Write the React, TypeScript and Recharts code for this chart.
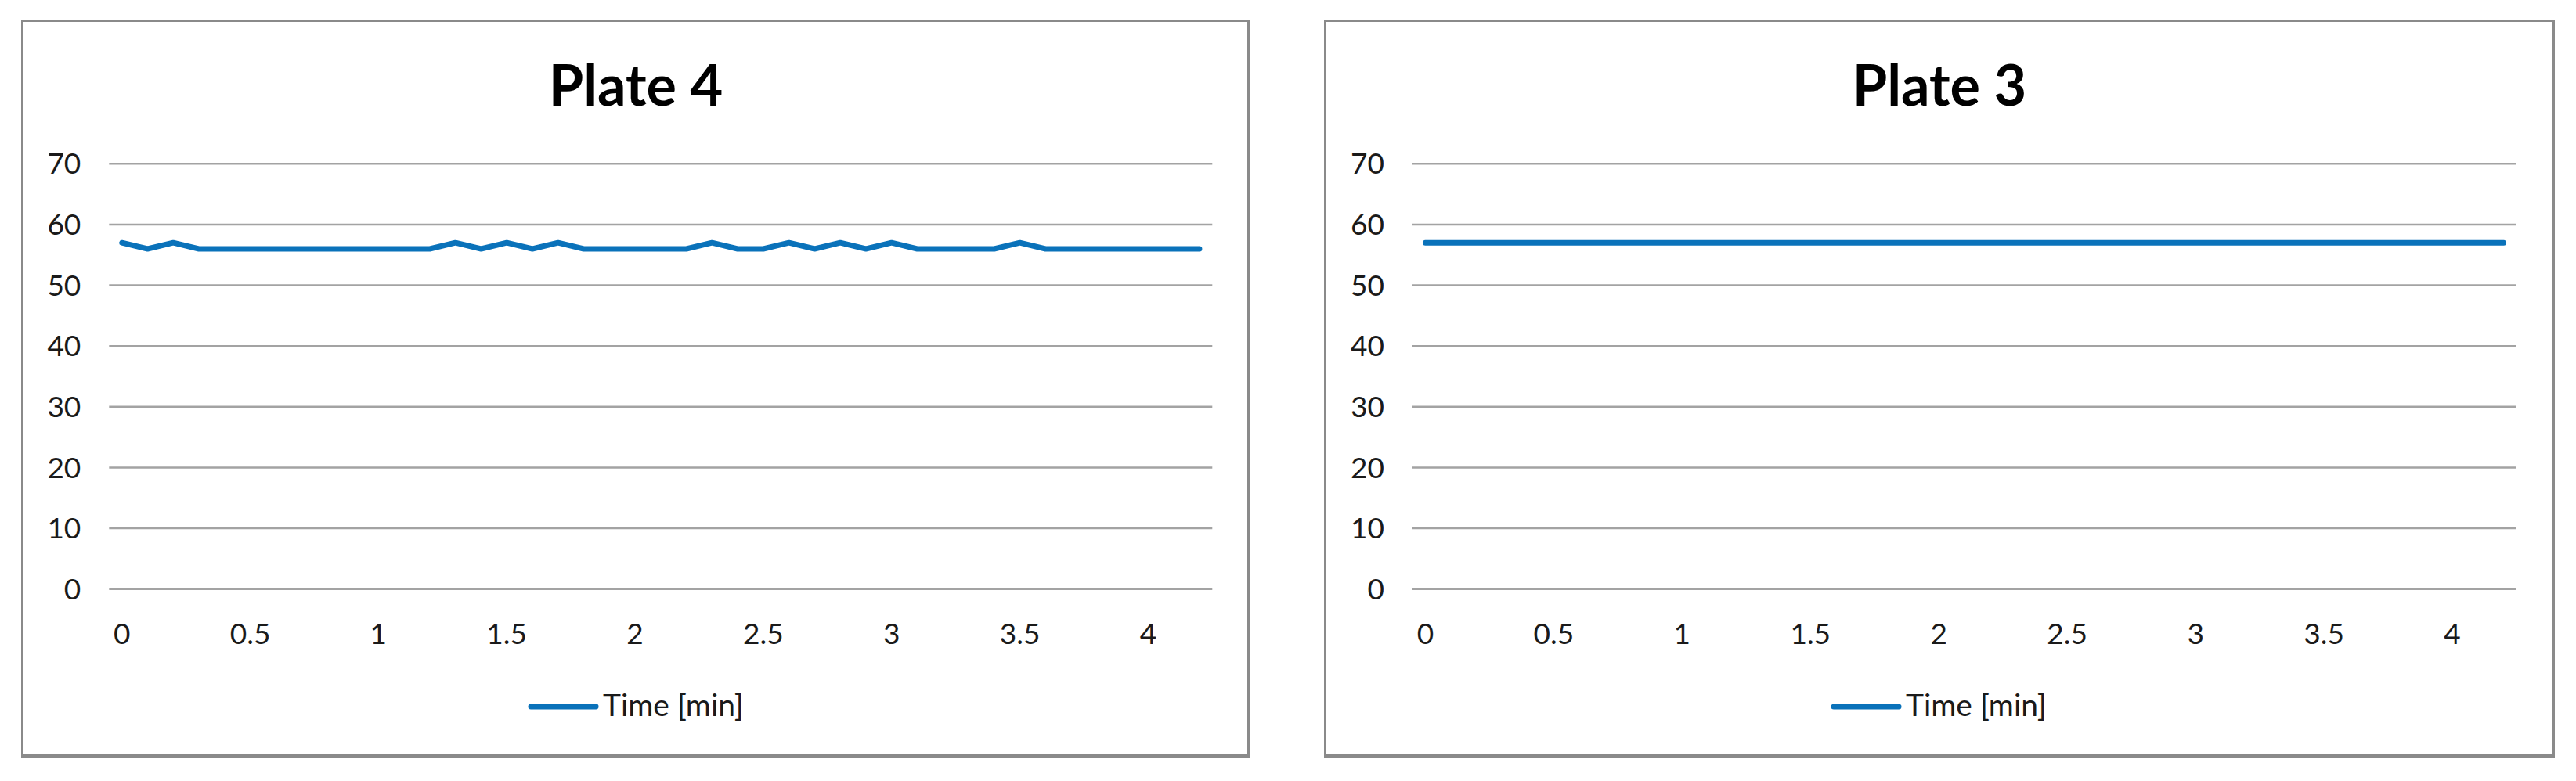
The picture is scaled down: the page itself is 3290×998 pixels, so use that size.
import { LineChart, Line, XAxis, YAxis, CartesianGrid, Legend } from "recharts";

const times = [0, 0.1, 0.2, 0.3, 0.4, 0.5, 0.6, 0.7, 0.8, 0.9, 1, 1.1, 1.2, 1.3, 1.4, 1.5, 1.6, 1.7, 1.8, 1.9, 2, 2.1, 2.2, 2.3, 2.4, 2.5, 2.6, 2.7, 2.8, 2.9, 3, 3.1, 3.2, 3.3, 3.4, 3.5, 3.6, 3.7, 3.8, 3.9, 4, 4.1, 4.2];

const plate4 = [57, 56, 57, 56, 56, 56, 56, 56, 56, 56, 56, 56, 56, 57, 56, 57, 56, 57, 56, 56, 56, 56, 56, 57, 56, 56, 57, 56, 57, 56, 57, 56, 56, 56, 56, 57, 56, 56, 56, 56, 56, 56, 56];

const plate3 = [57, 57, 57, 57, 57, 57, 57, 57, 57, 57, 57, 57, 57, 57, 57, 57, 57, 57, 57, 57, 57, 57, 57, 57, 57, 57, 57, 57, 57, 57, 57, 57, 57, 57, 57, 57, 57, 57, 57, 57, 57, 57, 57];

const xTicks = [0, 0.5, 1, 1.5, 2, 2.5, 3, 3.5, 4];
const yTicks = [0, 10, 20, 30, 40, 50, 60, 70];
const seriesName = "Time [min]";

const BLUE = "#0A72BA";
const GRID = "#a3a3a3";
const TEXT = "#1a1a1a";
const FONT = "Lato, 'Open Sans', sans-serif";

const CHART_H = 998;
const PLOT_TOP = 209.3;
const PLOT_BOTTOM = 752.7;
const X_AXIS_H = 60;

interface PanelProps {
  title: string;
  values: number[];
  boxLeft: number;
  boxWidth: number;
  plotLeft: number;
  plotRight: number;
}

function LegendContent({ payload }: any) {
  const item = payload && payload[0];
  return (
    <svg width={320} height={50} style={{ display: "block" }}>
      <line x1={4} x2={87} y1={25} y2={25} stroke={BLUE} strokeWidth={7} strokeLinecap="round" />
      <text x={96} y={37} fontFamily={FONT} fontSize={39} fill={TEXT}>
        {item ? item.value : seriesName}
      </text>
    </svg>
  );
}

function Panel({ title, values, boxLeft, boxWidth, plotLeft, plotRight }: PanelProps) {
  const data = times.map((t, i) => ({ t, v: values[i] }));
  const yAxisW = plotLeft - boxLeft;
  const rightMargin = boxWidth - (plotRight - boxLeft);
  return (
    <>
      <div
        style={{
          position: "absolute",
          left: boxLeft,
          top: 25,
          width: boxWidth,
          height: 944,
          boxSizing: "border-box",
          borderTop: "3px solid #8a8a8a",
          borderLeft: "3px solid #8a8a8a",
          borderRight: "4px solid #8a8a8a",
          borderBottom: "5px solid #8a8a8a",
          background: "#fff",
        }}
      />
      <div
        style={{
          position: "absolute",
          left: boxLeft,
          top: 71,
          width: boxWidth,
          textAlign: "center",
          fontFamily: FONT,
          fontWeight: 700,
          fontSize: 72,
          lineHeight: "72px",
          color: "#000",
        }}
      >
        {title}
      </div>
      <div style={{ position: "absolute", left: boxLeft, top: 0, width: boxWidth, height: CHART_H }}>
        <LineChart
          width={boxWidth}
          height={CHART_H}
          data={data}
          margin={{ top: PLOT_TOP, right: rightMargin, left: 0, bottom: CHART_H - PLOT_BOTTOM - X_AXIS_H }}
        >
          <CartesianGrid vertical={false} stroke={GRID} strokeWidth={2.5} />
          <XAxis
            dataKey="t"
            type="number"
            domain={[-0.05, 4.25]}
            ticks={xTicks}
            interval={0}
            height={X_AXIS_H}
            tickLine={false}
            axisLine={false}
            tickSize={0}
            tickMargin={44}
            tickFormatter={(v: number) => String(v)}
            tick={{ fontFamily: FONT, fontSize: 37, fill: TEXT }}
          />
          <YAxis
            type="number"
            domain={[0, 70]}
            ticks={yTicks}
            interval={0}
            width={yAxisW}
            tickLine={false}
            axisLine={false}
            tickSize={0}
            tickMargin={36}
            tick={{ fontFamily: FONT, fontSize: 37, fill: TEXT }}
          />
          <Legend
            verticalAlign="middle"
            align="center"
            content={<LegendContent />}
            wrapperStyle={{ top: 878, left: 647, width: 320, height: 50 }}
          />
          <Line
            dataKey="v"
            name={seriesName}
            type="linear"
            stroke={BLUE}
            strokeWidth={7}
            strokeLinecap="round"
            strokeLinejoin="round"
            dot={false}
            activeDot={false}
            isAnimationActive={false}
          />
        </LineChart>
      </div>
    </>
  );
}

export default function App() {
  return (
    <div style={{ position: "fixed", left: 0, top: 0, width: 3290, height: 998, background: "#fff", overflow: "hidden" }}>
      <Panel title="Plate 4" values={plate4} boxLeft={27} boxWidth={1570} plotLeft={139.3} plotRight={1548.3} />
      <Panel title="Plate 3" values={plate3} boxLeft={1691} boxWidth={1572} plotLeft={1804} plotRight={3214} />
    </div>
  );
}
